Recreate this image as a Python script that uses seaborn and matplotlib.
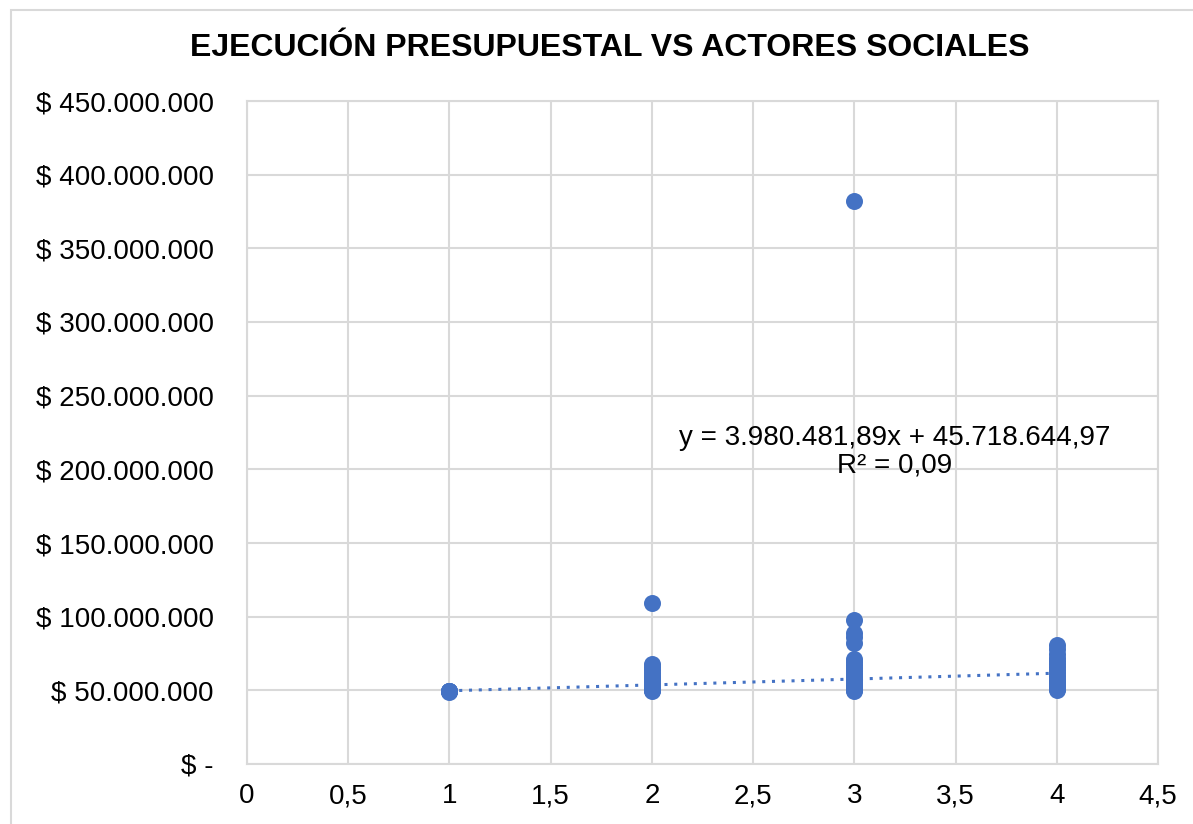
import matplotlib
matplotlib.use("Agg")
import matplotlib.pyplot as plt
import matplotlib.ticker as mticker
from matplotlib import font_manager
import seaborn as sns
import pandas as pd
import numpy as np

# ---- data ----
x1_vals = [49.5e6, 49.5e6, 49.5e6, 49.8e6, 49.2e6]
x2_vals = [109e6, 68e6, 66e6, 64e6, 62e6, 60e6, 58e6, 57e6, 56e6, 55e6,
           54e6, 53e6, 52e6, 51e6, 50e6, 50e6, 49.5e6]
x3_vals = [382e6, 98e6, 89e6, 86e6, 82e6, 71e6, 69e6, 67e6, 65e6, 63e6,
           61e6, 59e6, 57e6, 56e6, 55e6, 54e6, 53e6, 52e6, 51e6, 50e6, 49.5e6]
x4_vals = [80.5e6, 78e6, 75e6, 72e6, 70e6, 68e6, 66e6, 64e6, 62e6, 60e6,
           58e6, 56e6, 55e6, 54e6, 53e6, 52e6, 51e6, 50e6]
slope = 3980481.89
intercept = 45718644.97
trend_x = [1, 4]
title = "EJECUCIÓN PRESUPUESTAL VS ACTORES SOCIALES"
eq_text = "y = 3.980.481,89x + 45.718.644,97\nR² = 0,09"
x_ticks = [0, 0.5, 1, 1.5, 2, 2.5, 3, 3.5, 4, 4.5]
y_ticks = [0, 50e6, 100e6, 150e6, 200e6, 250e6, 300e6, 350e6, 400e6, 450e6]

df = pd.DataFrame({
    "actores": [1] * len(x1_vals) + [2] * len(x2_vals) + [3] * len(x3_vals) + [4] * len(x4_vals),
    "ejecucion": x1_vals + x2_vals + x3_vals + x4_vals,
})
trend = pd.DataFrame({"x": trend_x, "y": [slope * v + intercept for v in trend_x]})

sns.set_theme(style="white")
names = {f.name for f in font_manager.fontManager.ttflist}
base = "Liberation Sans" if "Liberation Sans" in names else "DejaVu Sans"
title_font = "Liberation Sans Narrow" if "Liberation Sans Narrow" in names else base
plt.rcParams["font.family"] = [base, "DejaVu Sans"]
plt.rcParams["text.color"] = "black"

blue = "#4472C4"
grid = "#D9D9D9"

fig = plt.figure(figsize=(11.93, 8.24), dpi=100)
ax = fig.add_axes([247 / 1193, 1 - 764 / 824, (1158 - 247) / 1193, (764 - 101) / 824])

sns.lineplot(data=trend, x="x", y="y", ax=ax, color=blue, linestyle=(0, (1, 2.2)),
             linewidth=2.2, zorder=2)
sns.scatterplot(data=df, x="actores", y="ejecucion", ax=ax, color=blue, s=150,
                edgecolor=blue, linewidth=0, zorder=3)

ax.set_xlim(0, 4.5)
ax.set_ylim(0, 450e6)
ax.set_xticks(x_ticks)
ax.set_yticks(y_ticks)

def xfmt(v, pos):
    s = ("%g" % v).replace(".", ",")
    return s

def yfmt(v, pos):
    if v == 0:
        return "$ -"
    return "$ " + f"{int(round(v)):,}".replace(",", ".")

ax.xaxis.set_major_formatter(mticker.FuncFormatter(xfmt))
ax.yaxis.set_major_formatter(mticker.FuncFormatter(yfmt))
ax.tick_params(axis="both", labelsize=20, length=0, colors="black")
ax.tick_params(axis="x", pad=14)
ax.tick_params(axis="y", pad=24)
ax.grid(True, color=grid, linewidth=1.5)
ax.set_axisbelow(True)
for sp in ax.spines.values():
    sp.set_color(grid)
    sp.set_linewidth(1.5)
ax.set_xlabel("")
ax.set_ylabel("")

ax.text(3.2, 212e6, eq_text, ha="center", va="center", fontsize=20,
        linespacing=1.05, color="black", zorder=4)

fig.text(610 / 1193, 1 - 48 / 824, title, ha="center", va="center", fontsize=23,
         fontweight="bold", color="black", family=[title_font, "DejaVu Sans"])

# chart border
fig.patches.append(plt.Rectangle((11 / 1193, -0.1), 1.2, 1 - 10 / 824 + 0.1,
                                 transform=fig.transFigure, fill=False,
                                 edgecolor=grid, linewidth=1.5))

fig.savefig("out.png", dpi=100)
